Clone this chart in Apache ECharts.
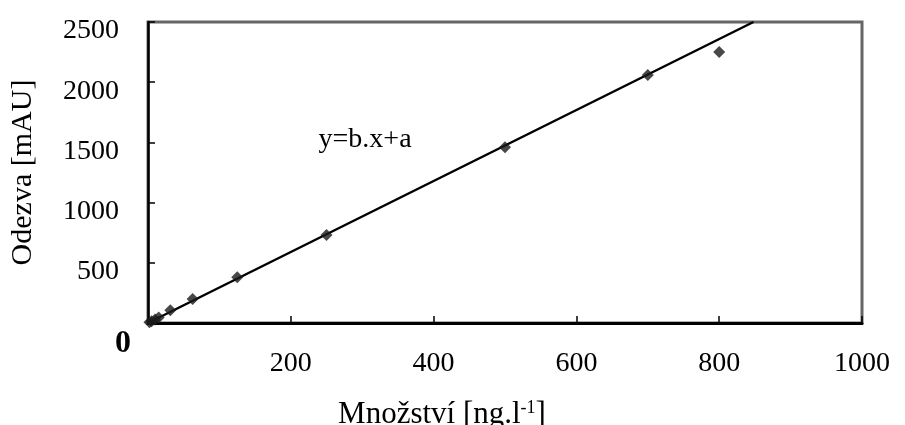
<!DOCTYPE html>
<html lang="cs" style="height: 100%">
<head>
    <meta charset="utf-8">
</head>
<body style="height: 100%; margin: 0; background: #fff">
<div id="container" style="width: 905px; height: 425px"></div>

<script type="text/javascript" src="https://fastly.jsdelivr.net/npm/echarts@6/dist/echarts.min.js"></script>

<script type="text/javascript">
    // naměřené body (množství, odezva)
    var mnozstvi = [2, 5, 10, 15, 31.25, 62.5, 125, 250, 500, 700, 800];
    var odezva = [6, 15, 30, 45, 105, 200, 380, 730, 1460, 2060, 2250];

    // regresní přímka - koncové body
    var primkaX = [0, 848];
    var primkaY = [0, 2500];

    var xTicks = [0, 200, 400, 600, 800, 1000];
    var yTicks = [0, 500, 1000, 1500, 2000, 2500];

    var rovnice = 'y=b.x+a';
    var rovnicePos = [304, 1520];

    var font = '"Liberation Serif", "Times New Roman", serif';

    var dom = document.getElementById('container');
    var myChart = echarts.init(dom, null, {renderer: 'canvas'});

    var body = mnozstvi.map(function (x, i) { return [x, odezva[i]]; });
    var primka = primkaX.map(function (x, i) { return [x, primkaY[i]]; });

    var xMin = xTicks[0], xMax = xTicks[xTicks.length - 1];
    var yMin = yTicks[0], yMax = yTicks[yTicks.length - 1];

    var option = {
        animation: false,
        backgroundColor: '#fff',
        grid: {
            left: 148,
            right: 43,
            top: 22,
            bottom: 102,
            containLabel: false,
            outerBoundsMode: 'none',
            show: true,
            borderColor: '#666',
            borderWidth: 3,
            backgroundColor: 'transparent'
        },
        xAxis: [{
            type: 'value',
            min: xMin,
            max: xMax,
            interval: 200,
            name: 'Množství [ng.l{sup|-1}]',
            nameLocation: 'middle',
            nameGap: 76,
            nameTextStyle: {
                fontFamily: font,
                fontSize: 31,
                color: '#000',
                padding: [0, 126, 0, 0],
                rich: {
                    sup: {
                        fontFamily: font,
                        fontSize: 18,
                        color: '#000',
                        verticalAlign: 'top',
                        padding: [0, 0, 14, 0]
                    }
                }
            },
            axisLine: {show: true, onZero: false, lineStyle: {color: '#000', width: 3}},
            axisTick: {show: true, inside: true, length: 7, lineStyle: {color: '#000', width: 1.5}},
            splitLine: {show: false},
            axisLabel: {
                fontFamily: font,
                fontSize: 28,
                color: '#000',
                margin: 27,
                showMinLabel: false,
                formatter: function (v) { return String(v); }
            }
        }, {
            // jen tučná nula v počátku
            type: 'value',
            position: 'bottom',
            min: xMin,
            max: xMax,
            interval: 200,
            axisLine: {show: false},
            axisTick: {show: false},
            splitLine: {show: false},
            axisLabel: {
                margin: 5,
                formatter: function (v) { return v === 0 ? '{z|0}' : ''; },
                rich: {
                    z: {
                        fontFamily: font,
                        fontSize: 32,
                        fontWeight: 'bold',
                        color: '#000',
                        padding: [0, 50, 0, 0]
                    }
                }
            }
        }],
        yAxis: [{
            type: 'value',
            min: yMin,
            max: yMax,
            interval: 500,
            name: 'Odezva [mAU]',
            nameLocation: 'middle',
            nameGap: 110,
            nameTextStyle: {
                fontFamily: font,
                fontSize: 30,
                color: '#000'
            },
            axisLine: {show: true, onZero: false, lineStyle: {color: '#000', width: 2.5}},
            axisTick: {show: true, inside: true, length: 7, lineStyle: {color: '#000', width: 1.5}},
            splitLine: {show: false},
            axisLabel: {
                margin: 29,
                showMinLabel: false,
                formatter: function (v) { return '{t|' + v + '}'; },
                rich: {
                    t: {
                        fontFamily: font,
                        fontSize: 28,
                        color: '#000',
                        padding: [18, 0, 0, 0]
                    }
                }
            }
        }],
        series: [{
            type: 'line',
            data: primka,
            showSymbol: false,
            lineStyle: {color: '#000', width: 2.5},
            z: 2,
            markPoint: {
                symbol: 'rect',
                symbolSize: 1,
                itemStyle: {color: 'rgba(0,0,0,0)'},
                label: {
                    show: true,
                    position: 'inside',
                    formatter: rovnice,
                    fontFamily: font,
                    fontSize: 28,
                    color: '#000'
                },
                data: [{coord: rovnicePos}]
            }
        }, {
            type: 'scatter',
            data: body,
            symbol: 'diamond',
            symbolSize: 12,
            itemStyle: {color: '#1a1a1a'},
            z: 3
        }]
    };

    myChart.setOption(option);
    window.addEventListener('resize', myChart.resize);
</script>
</body>
</html>
